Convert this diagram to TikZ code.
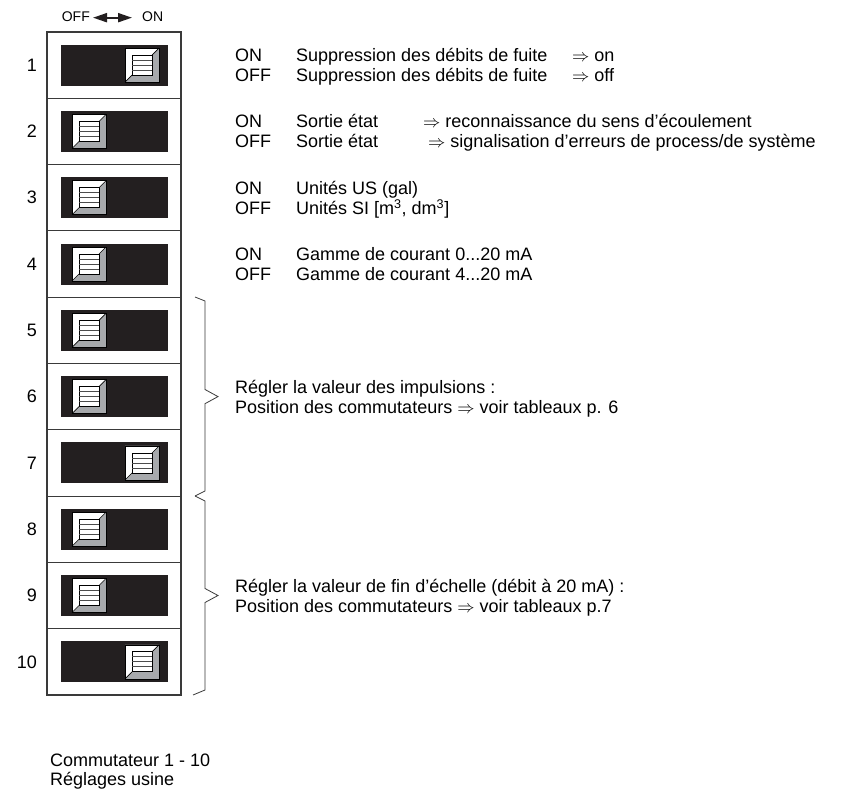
\documentclass[tikz,border=0pt]{standalone}
\usepackage{fontspec}
\setmainfont{Liberation Sans}
\usetikzlibrary{arrows.meta,positioning}
\definecolor{trackblack}{HTML}{231F20}
\definecolor{knobgray}{HTML}{A7A9AC}
\definecolor{framegray}{HTML}{3A3A3A}

\begin{document}
\begin{tikzpicture}[
  x=1pt, y=-1pt,
  font=\fontsize{18}{20}\selectfont,
  cell/.style={draw=framegray, line width=1.1pt, minimum width=134pt, minimum height=66.3pt, inner sep=0pt},
  track/.style={fill=trackblack, minimum width=107pt, minimum height=41pt, inner sep=0pt},
  num/.style={anchor=east, inner sep=0pt},
  txt/.style={anchor=base west, inner sep=0pt},
  head/.style={inner sep=0pt, font=\fontsize{14}{16}\selectfont},
  brace/.style={draw=framegray, line width=0.8pt},
  dblarrow/.style={{Triangle[length=14pt,width=9pt]}-{Triangle[length=14pt,width=9pt]}, line width=2pt, draw=trackblack},
  knob/.pic={
    \fill[knobgray] (-17,-17) rectangle (17,17);
    \fill[white] (-17,-17) -- (17,-17) -- (10,-10) -- (-10,-10) -- (-10,10) -- (-17,17) -- cycle;
    \draw[line width=0.6pt] (17,-17) -- (10,-10) (-17,17) -- (-10,10);
    \draw[line width=0.6pt] (-17,-17) rectangle (17,17);
    \draw[line width=0.9pt, fill=white] (-10,-10) rectangle (10,10);
    \draw[line width=0.8pt, draw=black!70] (-10,-5) -- (10,-5) (-10,0) -- (10,0) (-10,5) -- (10,5);
  }
]
\useasboundingbox (0,0) rectangle (843,791);

\node[head, anchor=base east] (offlabel) at (90,22) {OFF};
\node[head, anchor=base west] (onlabel) at (142,22) {ON};
\draw[dblarrow] ([xshift=3pt,yshift=-0.5pt]offlabel.east) -- ([xshift=-10pt,yshift=-0.5pt]onlabel.west);

\foreach \i/\s in {1/1,2/0,3/0,4/0,5/0,6/0,7/1,8/0,9/0,10/1} {
  \pgfmathsetmacro{\yc}{32+66.3*(\i-0.5)}
  \pgfmathsetmacro{\xk}{ifthenelse(\s==1,142,89)}
  \node[cell] (cell\i) at (114,\yc) {};
  \node[track] (track\i) at (114.5,\yc) {};
  \pic at (\xk,\yc) {knob};
  \node[num] (num\i) at (37,\yc) {\i};
}

\node[txt] (on1) at (235,61.7) {ON};
\node[txt] (off1) at (235,81.7) {OFF};
\node[txt] (don1) at (296,61.7) {Suppression des débits de fuite};
\node[txt] (doff1) at (296,81.7) {Suppression des débits de fuite};
\node[txt] (ron1) at (572,61.7) {$\Rightarrow$ on};
\node[txt] (roff1) at (572,81.7) {$\Rightarrow$ off};

\node[txt] (on2) at (235,128) {ON};
\node[txt] (off2) at (235,148) {OFF};
\node[txt] (don2) at (296,128) {Sortie état};
\node[txt] (doff2) at (296,148) {Sortie état};
\node[txt] (ron2) at (423,128) {$\Rightarrow$ reconnaissance du sens d’écoulement};
\node[txt] (roff2) at (428,148) {$\Rightarrow$ signalisation d’erreurs de process/de système};

\node[txt] (on3) at (235,194.3) {ON};
\node[txt] (off3) at (235,214.3) {OFF};
\node[txt] (don3) at (296,194.3) {Unités US (gal)};
\node[txt] (doff3) at (296,214.3) {Unités SI [m\textsuperscript{3}, dm\textsuperscript{3}]};

\node[txt] (on4) at (235,260.6) {ON};
\node[txt] (off4) at (235,280.6) {OFF};
\node[txt] (don4) at (296,260.6) {Gamme de courant 0...20 mA};
\node[txt] (doff4) at (296,280.6) {Gamme de courant 4...20 mA};

\draw[brace] (195,297) -- (205,301) -- (205,389.5) -- (218,396.6) -- (205,403.7) -- (205,491) -- (195,496);
\draw[brace] (195,496) -- (205,501) -- (205,588.5) -- (218,595.5) -- (205,602.5) -- (205,690) -- (193,695);

\node[txt] (pulse1) at (235,393.5) {Régler la valeur des impulsions :};
\node[txt] (pulse2) at (235,413.5) {Position des commutateurs $\Rightarrow$ voir tableaux p. 6};
\node[txt] (scale1) at (235,592) {Régler la valeur de fin d’échelle (débit à 20 mA) :};
\node[txt] (scale2) at (235,612) {Position des commutateurs $\Rightarrow$ voir tableaux p.7};

\node[txt] (foot1) at (50,766.5) {Commutateur 1 - 10};
\node[txt] (foot2) at (50,785.5) {Réglages usine};
\end{tikzpicture}
\end{document}
